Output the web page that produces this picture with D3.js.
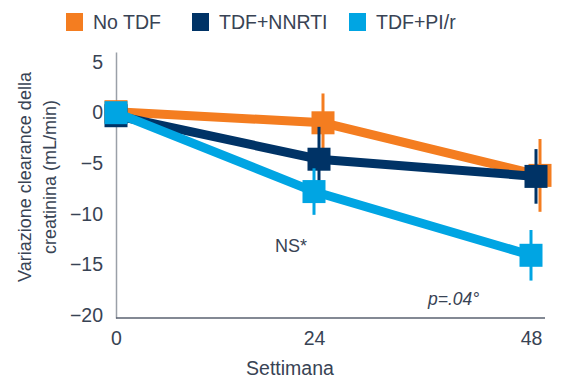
<!DOCTYPE html>
<html>
<head>
<meta charset="utf-8">
<script src="https://cdn.jsdelivr.net/npm/d3@7"></script>
<style>
  html, body { margin: 0; padding: 0; background: #ffffff; }
  svg { display: block; font-family: "Liberation Sans", Arial, Helvetica, sans-serif; }
</style>
</head>
<body>
<svg id="chart" width="562" height="378"></svg>
<script>
// Weeks of follow-up and tick values
const weeks = [0, 24, 48];
const xTickValues = [0, 24, 48];
const yTickValues = [5, 0, -5, -10, -15, -20];

// Mean change in creatinine clearance (mL/min) per group, with error half-widths
const seriesNames = ["No TDF", "TDF+NNRTI", "TDF+PI/r"];
const noTdf = [0.1, -1.0, -6.2];
const noTdfErr = [0, 2.9, 3.6];
const tdfNnrti = [-0.3, -4.6, -6.3];
const tdfNnrtiErr = [0, 3.2, 2.7];
const tdfPir = [0, -7.8, -14.1];
const tdfPirErr = [0, 2.3, 2.5];

const colors = ["#F47D20", "#003366", "#00A5E3"];
const dodge = [9, 5, 0];           // horizontal offset after baseline, px
const textColor = "#384354";

const series = seriesNames.map((name, i) => ({
  name,
  color: colors[i],
  dodge: dodge[i],
  values: [noTdf, tdfNnrti, tdfPir][i],
  errors: [noTdfErr, tdfNnrtiErr, tdfPirErr][i]
}));

const svg = d3.select("#chart");

const x = d3.scaleLinear().domain([0, 24, 48]).range([116, 314, 531]);
const y = d3.scaleLinear().domain([-20.3, 6]).range([318, 52]);

// Y axis
const yAxis = svg.append("g")
  .attr("transform", `translate(${x(0)},0)`)
  .call(d3.axisLeft(y).tickValues(yTickValues).tickSize(0).tickSizeOuter(0).tickPadding(13));
yAxis.select(".domain").attr("stroke", "#9aa0a8").attr("stroke-width", 1.5);
yAxis.selectAll("text")
  .attr("fill", textColor)
  .style("font-size", "19.5px")
  .attr("font-family", "Liberation Sans, Arial, sans-serif");

// X axis
const xAxis = svg.append("g")
  .attr("transform", `translate(0,${y.range()[0]})`)
  .call(d3.axisBottom(x).tickValues(xTickValues).tickSize(0).tickSizeOuter(0).tickPadding(13));
xAxis.select(".domain").remove();
xAxis.append("line")
  .attr("x1", x(0)).attr("x2", x(48) + 14)
  .attr("y1", 0).attr("y2", 0)
  .attr("stroke", "#5a6270").attr("stroke-width", 1.5);
xAxis.selectAll("text")
  .attr("fill", textColor)
  .style("font-size", "19.5px")
  .attr("font-family", "Liberation Sans, Arial, sans-serif");

// Axis titles
svg.append("text")
  .attr("x", 290).attr("y", 375)
  .attr("text-anchor", "middle")
  .attr("fill", textColor)
  .style("font-size", "19.5px")
  .text("Settimana");

const yTitle = svg.append("text")
  .attr("transform", "translate(31,177) rotate(-90)")
  .attr("text-anchor", "middle")
  .attr("fill", textColor)
  .style("font-size", "18px");
yTitle.append("tspan").attr("x", 0).attr("dy", 0).text("Variazione clearance della");
yTitle.append("tspan").attr("x", 0).attr("dy", 25).text("creatinina (mL/min)");

// Series: line, error bars, markers
const px = (s, i) => x(weeks[i]) + (weeks[i] > 0 ? s.dodge : 0);
const line = d3.line().x(d => d.x).y(d => d.y);
const markerSize = 23;

series.forEach(s => {
  const g = svg.append("g");
  const pts = weeks.map((w, i) => ({ x: px(s, i), y: y(s.values[i]), v: s.values[i], e: s.errors[i] }));

  g.append("path")
    .datum(pts)
    .attr("d", line)
    .attr("fill", "none")
    .attr("stroke", s.color)
    .attr("stroke-width", 9);

  g.selectAll("line.err")
    .data(pts.filter(d => d.e > 0))
    .join("line")
    .attr("class", "err")
    .attr("x1", d => d.x).attr("x2", d => d.x)
    .attr("y1", d => y(d.v + d.e)).attr("y2", d => y(d.v - d.e))
    .attr("stroke", s.color)
    .attr("stroke-width", 3);

  g.selectAll("rect")
    .data(pts)
    .join("rect")
    .attr("x", d => d.x - markerSize / 2)
    .attr("y", d => d.y - markerSize / 2)
    .attr("width", markerSize)
    .attr("height", markerSize)
    .attr("fill", s.color);
});

// Annotations
svg.append("text")
  .attr("x", 275).attr("y", 252)
  .attr("fill", textColor)
  .style("font-size", "18px")
  .text("NS*");

svg.append("text")
  .attr("x", 428).attr("y", 305)
  .attr("fill", textColor)
  .style("font-size", "17.5px")
  .style("font-style", "italic")
  .text("p=.04°");

// Legend
const legendX = [66, 192, 349];
const legend = svg.append("g");
series.forEach((s, i) => {
  legend.append("rect")
    .attr("x", legendX[i]).attr("y", 13)
    .attr("width", 17).attr("height", 18)
    .attr("fill", s.color);
  legend.append("text")
    .attr("x", legendX[i] + 27).attr("y", 29)
    .attr("fill", textColor)
    .style("font-size", "19.5px")
    .text(s.name);
});
</script>
</body>
</html>
